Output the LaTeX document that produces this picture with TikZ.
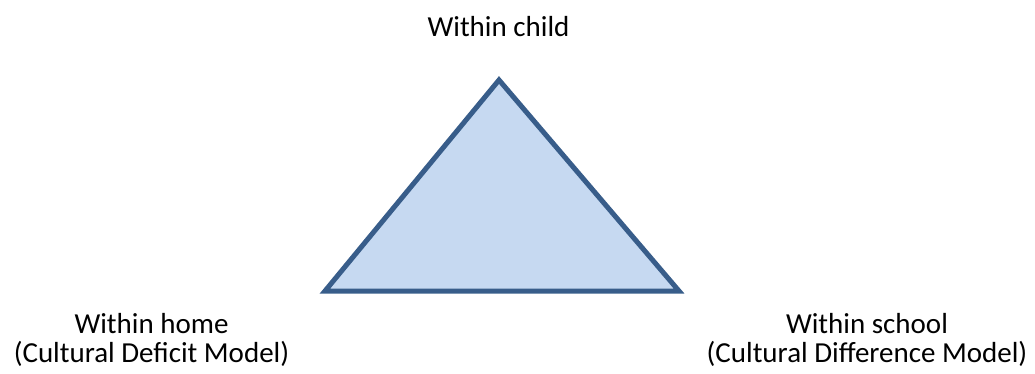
\documentclass[tikz,border=0pt]{standalone}
\usepackage{fontspec}
\setmainfont{Carlito}
\definecolor{trifill}{HTML}{C6D9F1}
\definecolor{triline}{HTML}{385D8A}
\tikzset{
  lbl/.style={font=\fontsize{29}{29}\selectfont, align=center, inner sep=0pt, anchor=base},
  tri/.style={draw=triline, fill=trifill, line width=5pt, line join=miter}
}
\begin{document}
\begin{tikzpicture}[x=1pt,y=-1pt]
\useasboundingbox (0,0) rectangle (1035,373);
\coordinate (apex) at (499,80);
\coordinate (bl) at (325,291);
\coordinate (br) at (679,291);
\draw[tri] (apex) -- (bl) -- (br) -- cycle;
\node[lbl] (child) at (498.5,36) {Within child};
\node[lbl] (home) at (151.5,362) {Within home\\(Cultural Deficit Model)};
\node[lbl] (school) at (867,362) {Within school\\(Cultural Difference Model)};
\end{tikzpicture}
\end{document}
